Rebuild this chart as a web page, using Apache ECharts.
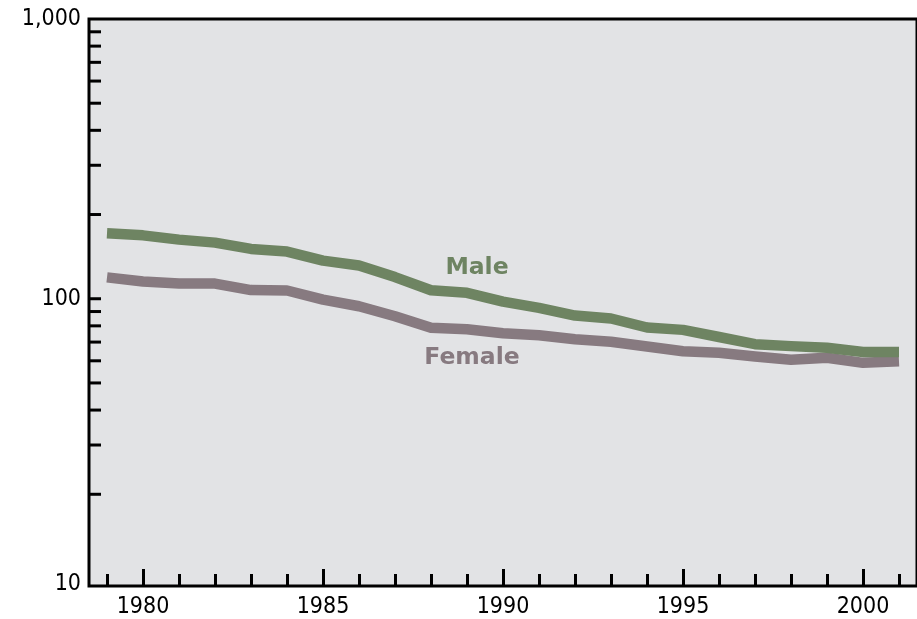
<!DOCTYPE html>
<html>
<head>
<meta charset="utf-8">
<script src="https://cdn.jsdelivr.net/npm/echarts@6/dist/echarts.min.js"></script>
<style>
html,body{margin:0;padding:0;background:#fff;}
#c{width:917px;height:619px;}
</style>
</head>
<body>
<div id="c"></div>
<script>
const years = ['1979','1980','1981','1982','1983','1984','1985','1986','1987','1988','1989','1990','1991','1992','1993','1994','1995','1996','1997','1998','1999','2000','2001'];
const male = [171.3,168.5,162.7,158.7,150.7,147.4,136.9,131.4,119.5,107.2,105.0,97.7,92.8,87.1,85.0,78.9,77.4,73.0,68.8,67.7,66.8,64.5,64.5];
const female = [119.2,115.2,113.3,113.3,107.4,107.0,99.3,94.0,86.6,78.7,77.8,75.3,74.1,71.7,70.2,67.5,64.9,64.1,62.2,60.5,61.5,59.0,59.8];
const yMinorTicks = [20,30,40,50,60,70,80,90,100,200,300,400,500,600,700,800,900];
const yLabels = {10:'10',100:'100',1000:'1,000'};
const seriesNames = ['Male','Female'];

const GREEN = '#6e8462';
const MAUVE = '#877a80';
const TICKFONT = '"DejaVu Sans Condensed", "DejaVu Sans", sans-serif';
const FONT = '"DejaVu Sans", Verdana, sans-serif';

const chart = echarts.init(document.getElementById('c'), null, {renderer:'canvas'});
const isMajorYear = (i) => Number(years[i]) % 5 === 0;

chart.setOption({
  animation: false,
  backgroundColor: '#ffffff',
  grid: {
    left: 89, top: 19, right: -10, bottom: 32,
    show: true, backgroundColor: '#e2e3e5',
    borderColor: '#000', borderWidth: 3
  },
  xAxis: [
    {
      type: 'category', data: years, position: 'bottom', boundaryGap: true,
      axisLine: {show: false},
      axisTick: {show: true, inside: true, alignWithLabel: true, interval: 0, length: 12,
        lineStyle: {color: '#000', width: 3}},
      axisLabel: {interval: (i) => isMajorYear(i), color: '#000', fontFamily: TICKFONT, fontSize: 23, margin: 10},
      splitLine: {show: false}
    },
    {
      type: 'category', data: years, position: 'bottom', boundaryGap: true,
      axisLine: {show: false},
      axisTick: {show: true, inside: true, alignWithLabel: true, interval: (i) => isMajorYear(i), length: 17,
        lineStyle: {color: '#000', width: 3}},
      axisLabel: {show: false},
      splitLine: {show: false}
    }
  ],
  yAxis: {
    type: 'log', logBase: 10, min: 9.4, max: 1000,
    axisLine: {show: false},
    axisTick: {show: false},
    splitLine: {show: false},
    axisLabel: {
      color: '#000', fontFamily: TICKFONT, fontSize: 23, margin: 8,
      formatter: function (v) {
        const r = Math.round(v);
        if (Math.abs(v - r) > 0.01 || !yLabels[r]) return '';
        return r === 10 ? '{lo|' + yLabels[r] + '}' : yLabels[r];
      },
      rich: {lo: {fontFamily: TICKFONT, fontSize: 23, color: '#000', padding: [12, 0, 0, 0]}}
    }
  },
  series: [
    {
      name: seriesNames[0], type: 'line', data: male, xAxisIndex: 0,
      symbol: 'none', lineStyle: {color: GREEN, width: 10.5, cap: 'butt', join: 'round'},
      z: 3
    },
    {
      name: seriesNames[1], type: 'line', data: female, xAxisIndex: 0,
      symbol: 'none', lineStyle: {color: MAUVE, width: 10.5, cap: 'butt', join: 'round'},
      z: 2
    },
    {
      type: 'custom', xAxisIndex: 0, silent: true, z: 5,
      data: yMinorTicks.map(v => [0, v]),
      encode: {x: 0, y: 1},
      renderItem: function (params, api) {
        const pt = api.coord([api.value(0), api.value(1)]);
        const x0 = params.coordSys.x;
        return {
          type: 'line',
          shape: {x1: x0, y1: pt[1], x2: x0 + 12, y2: pt[1]},
          style: {stroke: '#000', lineWidth: 3}
        };
      }
    }
  ],
  graphic: [
    {type: 'text', x: 477, y: 268, style: {text: seriesNames[0], fill: GREEN, font: 'bold 23.5px ' + FONT, align: 'center', verticalAlign: 'middle'}},
    {type: 'text', x: 472, y: 358, style: {text: seriesNames[1], fill: MAUVE, font: 'bold 23.5px ' + FONT, align: 'center', verticalAlign: 'middle'}}
  ]
});
</script>
</body>
</html>
